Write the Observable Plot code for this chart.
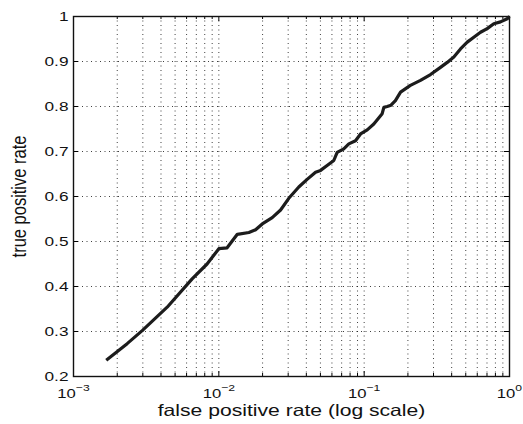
<!DOCTYPE html>
<html><head><meta charset="utf-8">
<script src="https://cdn.jsdelivr.net/npm/d3@7"></script>
<script src="https://cdn.jsdelivr.net/npm/@observablehq/plot@0.6"></script>
<style>
html,body{margin:0;padding:0;background:#fff;}
#chart{position:absolute;left:0;top:0;}
</style></head><body><div id="chart"></div>
<script>
// ROC curve values
const fpr = [0.00168, 0.00234, 0.00297, 0.00441, 0.00655, 0.0083, 0.0100, 0.0114, 0.0134, 0.0161, 0.0179,
  0.0199, 0.0233, 0.0266, 0.0303, 0.0355, 0.0405, 0.0463, 0.0501, 0.0556, 0.0618, 0.0652, 0.0724, 0.0784,
  0.0872, 0.0944, 0.105, 0.1165, 0.133, 0.1366, 0.144, 0.153, 0.164, 0.178, 0.208, 0.244, 0.286, 0.335,
  0.373, 0.414, 0.460, 0.512, 0.568, 0.632, 0.702, 0.780, 0.867, 0.964, 1.0];
const tpr = [0.236, 0.273, 0.302, 0.354, 0.417, 0.450, 0.484, 0.486, 0.516, 0.520, 0.526,
  0.539, 0.553, 0.570, 0.596, 0.621, 0.638, 0.654, 0.658, 0.669, 0.680, 0.698, 0.706, 0.717,
  0.724, 0.739, 0.748, 0.761, 0.784, 0.798, 0.800, 0.803, 0.813, 0.832, 0.847, 0.858, 0.871, 0.887,
  0.898, 0.910, 0.928, 0.943, 0.954, 0.965, 0.973, 0.984, 0.988, 0.995, 1.0];
const xMajorTicks = [0.001, 0.01, 0.1, 1];
const xTickLabels = ["10^\u22123", "10^\u22122", "10^\u22121", "10^0"];
const yTicks = [0.2, 0.3, 0.4, 0.5, 0.6, 0.7, 0.8, 0.9, 1.0];
const yTickLabels = ["0.2", "0.3", "0.4", "0.5", "0.6", "0.7", "0.8", "0.9", "1"];
const xLabel = "false positive rate (log scale)";
const yLabel = "true positive rate";

const data = fpr.map((x, i) => ({x, y: tpr[i]}));
const xMinor = [];
for (const d of xMajorTicks.slice(0, -1)) for (let k = 2; k <= 9; k++) xMinor.push(d * k);

const W = 523, H = 424, mL = 73, mR = 14, mT = 16, mB = 48;
const plotH = H - mT - mB, plotW = W - mL - mR;
const gridStyle = {stroke: "#000", strokeOpacity: 0.75, strokeWidth: 1, strokeDasharray: "1,3.5"};

const svg = Plot.plot({
  width: W, height: H, marginLeft: mL, marginRight: mR, marginTop: mT, marginBottom: mB,
  style: {fontFamily: "'Liberation Sans', Arial, Helvetica, sans-serif", background: "white", color: "black"},
  x: {type: "log", domain: [0.001, 1], axis: null},
  y: {domain: [0.2, 1], axis: null},
  marks: [
    Plot.gridX([...xMajorTicks, ...xMinor], gridStyle),
    Plot.gridY(yTicks, gridStyle),
    Plot.tickX(xMajorTicks, {x: d => d, insetTop: plotH - 5, stroke: "#000"}),
    Plot.tickX(xMajorTicks, {x: d => d, insetBottom: plotH - 5, stroke: "#000"}),
    Plot.tickX(xMinor, {x: d => d, insetTop: plotH - 3, stroke: "#000"}),
    Plot.tickX(xMinor, {x: d => d, insetBottom: plotH - 3, stroke: "#000"}),
    Plot.tickY(yTicks, {y: d => d, insetRight: plotW - 5, stroke: "#000"}),
    Plot.tickY(yTicks, {y: d => d, insetLeft: plotW - 5, stroke: "#000"}),
    Plot.frame({stroke: "#111", strokeWidth: 1.4}),
    Plot.line(data, {x: "x", y: "y", stroke: "#1c1c1c", strokeWidth: 3.2, strokeLinejoin: "round", strokeLinecap: "butt"}),
    Plot.text(yTicks, {y: d => d, frameAnchor: "left", dx: -5, textAnchor: "end", lineAnchor: "middle", text: (d, i) => yTickLabels[i], fontSize: 13.5, fill: "#111", ariaLabel: () => "ytick"}),
    Plot.text(xMajorTicks, {x: d => d, frameAnchor: "bottom", dy: 17.5, textAnchor: "middle", lineAnchor: "middle", text: (d, i) => xTickLabels[i], fontSize: 13, fill: "#111", ariaLabel: () => "xtick"}),
    Plot.text([xLabel], {frameAnchor: "bottom", dy: 34, textAnchor: "middle", lineAnchor: "middle", text: d => d, fontSize: 16.5, fill: "#111", ariaLabel: () => "xlabel"}),
    Plot.text([yLabel], {frameAnchor: "left", dx: -54, rotate: -90, textAnchor: "middle", lineAnchor: "middle", text: d => d, fontSize: 16.5, fill: "#111", ariaLabel: () => "ylabel"})
  ]
});
document.getElementById("chart").appendChild(svg);

// superscript exponents on the x tick labels
d3.select(svg).selectAll('text[aria-label="xtick"]').each(function () {
  const t = d3.select(this);
  const parts = t.text().split("^");
  t.text(parts[0]);
  t.append("tspan").attr("dy", "-7.5").attr("font-size", "9.5").text(parts[1]);
});
// the reference's text is horizontally stretched
const S = 1.28;
d3.select(svg).selectAll('text[aria-label="xtick"], text[aria-label="ytick"], text[aria-label="xlabel"]').each(function () {
  const L = this.getComputedTextLength();
  this.setAttribute("textLength", (L * S).toFixed(1));
  this.setAttribute("lengthAdjust", "spacingAndGlyphs");
});
d3.select(svg).selectAll('text[aria-label="ylabel"]').each(function () {
  const tr = this.getAttribute("transform") || "";
  this.setAttribute("transform", tr + " scale(1," + S + ")");
});
</script></body></html>
